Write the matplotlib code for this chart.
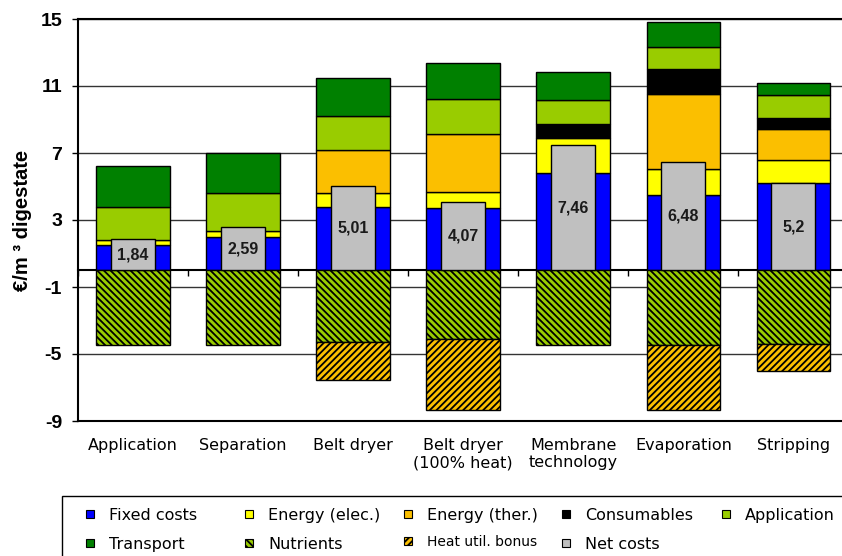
import matplotlib
matplotlib.use("Agg")
import matplotlib.pyplot as plt
from matplotlib.patches import Rectangle
import numpy as np

# values in EUR per m3 digestate
categories = ["Application", "Separation", "Belt dryer", "Belt dryer\n(100% heat)",
              "Membrane\ntechnology", "Evaporation", "Stripping"]
fixed_costs = [1.49, 1.97, 3.80, 3.74, 5.83, 4.50, 5.19]
energy_elec = [0.32, 0.40, 0.82, 0.92, 2.05, 1.57, 1.40]
energy_ther = [0.00, 0.00, 2.54, 3.50, 0.00, 4.46, 1.85]
consumables = [0.00, 0.00, 0.00, 0.00, 0.84, 1.51, 0.66]
application = [1.99, 2.25, 2.07, 2.07, 1.43, 1.29, 1.35]
transport = [2.43, 2.38, 2.27, 2.15, 1.67, 1.48, 0.71]
nutrients = [-4.46, -4.48, -4.30, -4.08, -4.48, -4.44, -4.38]
heat_bonus = [0.00, 0.00, -2.27, -4.26, 0.00, -3.90, -1.61]
net_costs = [1.84, 2.59, 5.01, 4.07, 7.46, 6.48, 5.2]
net_labels = ["1,84", "2,59", "5,01", "4,07", "7,46", "6,48", "5,2"]

yticks = [-9, -5, -1, 3, 7, 11, 15]

plt.rcParams["hatch.linewidth"] = 1.3
plt.rcParams["hatch.color"] = "#1a1a00"
HATCH_NUT = "\\" * 5
HATCH_HEAT = "/" * 5

fig = plt.figure(figsize=(8.42, 5.56), dpi=100)
ax = fig.add_axes([78 / 842, 135 / 556, 770.5 / 842, 402 / 556])

x = np.arange(len(categories))
w = 0.67

pos_series = [
    (fixed_costs, "#0000FF"),
    (energy_elec, "#FFFF00"),
    (energy_ther, "#FBBF00"),
    (consumables, "#000000"),
    (application, "#99CC00"),
    (transport, "#008000"),
]
bottom = np.zeros(len(x))
for vals, col in pos_series:
    vals = np.array(vals)
    bars = ax.bar(x, vals, w, bottom=bottom, color=col, edgecolor="black", linewidth=1)
    for b, v in zip(bars, vals):
        if v == 0:
            b.set_visible(False)
    bottom += vals

neg_series = [
    (nutrients, "#99CC00", HATCH_NUT),
    (heat_bonus, "#FBBF00", HATCH_HEAT),
]
bottom = np.zeros(len(x))
for vals, col, h in neg_series:
    vals = np.array(vals)
    bars = ax.bar(x, vals, w, bottom=bottom, color=col, edgecolor="black",
                  linewidth=1, hatch=h)
    for b, v in zip(bars, vals):
        if v == 0:
            b.set_visible(False)
    bottom += vals

ax.bar(x, net_costs, 0.4, color="#C0C0C0", edgecolor="black", linewidth=1)
for xi, v, lab in zip(x, net_costs, net_labels):
    ax.text(xi, v / 2, lab, ha="center", va="center", fontsize=11.5,
            fontweight="bold", family="Liberation Sans", color="#1a1a1a")

ymin, ymax = -9, 15
ax.set_ylim(ymin, ymax)
ax.set_xlim(-0.5, len(x) - 0.5)
ax.set_yticks(yticks)
ax.set_yticklabels([str(t) for t in yticks], fontsize=14, fontweight="bold",
                   family="Liberation Sans")
ax.yaxis.grid(True, color="#333333", linewidth=1)
ax.set_axisbelow(True)
ax.tick_params(axis="y", direction="out", length=4.5, width=1, pad=7)
ax.set_ylabel("€/m ³ digestate", fontsize=14.5, fontweight="bold",
              family="Liberation Sans", labelpad=6)

ax.set_xticks(x)
ax.set_xticklabels(categories, fontsize=11.5, family="DejaVu Sans", linespacing=1.2)
ax.tick_params(axis="x", length=0, pad=12)

for s in ["left", "top", "bottom"]:
    ax.spines[s].set_linewidth(1.5)
ax.spines["right"].set_visible(False)

# zero line with tick marks between categories
sec = ax.secondary_xaxis((0 - ymin) / (ymax - ymin))
sec.set_xticks(np.arange(-0.5, len(x), 1.0))
sec.tick_params(direction="out", length=4.5, width=1, labelbottom=False)
sec.spines["bottom"].set_linewidth(1.5)

# legend box
fig.patches.append(Rectangle((62 / 842, -0.1), 1.0, 0.1 + 60 / 556,
                             transform=fig.transFigure, facecolor="white",
                             edgecolor="black", linewidth=1))
legend_items = [
    ("Fixed costs", "#0000FF", None, 90, 514, 11.5),
    ("Energy (elec.)", "#FFFF00", None, 249, 514, 11.5),
    ("Energy (ther.)", "#FBBF00", None, 408, 514, 11.5),
    ("Consumables", "#000000", None, 566, 514, 11.5),
    ("Application", "#99CC00", None, 726, 514, 11.5),
    ("Transport", "#008000", None, 90, 543, 11.5),
    ("Nutrients", "#99CC00", HATCH_NUT, 249, 543, 11.5),
    ("Heat util. bonus", "#FBBF00", HATCH_HEAT, 408, 541, 10),
    ("Net costs", "#C0C0C0", None, 566, 543, 11.5),
]
sq = 8
for label, col, h, px, py, fs in legend_items:
    fig.patches.append(Rectangle(((px - sq / 2) / 842, 1 - (py + sq / 2) / 556),
                                 sq / 842, sq / 556, transform=fig.transFigure,
                                 facecolor=col, edgecolor="black", linewidth=0.8,
                                 hatch=h))
    fig.text((px + 19) / 842, 1 - py / 556, label, fontsize=fs,
             family="DejaVu Sans", va="center_baseline", ha="left")

fig.savefig("out.png", dpi=100)
